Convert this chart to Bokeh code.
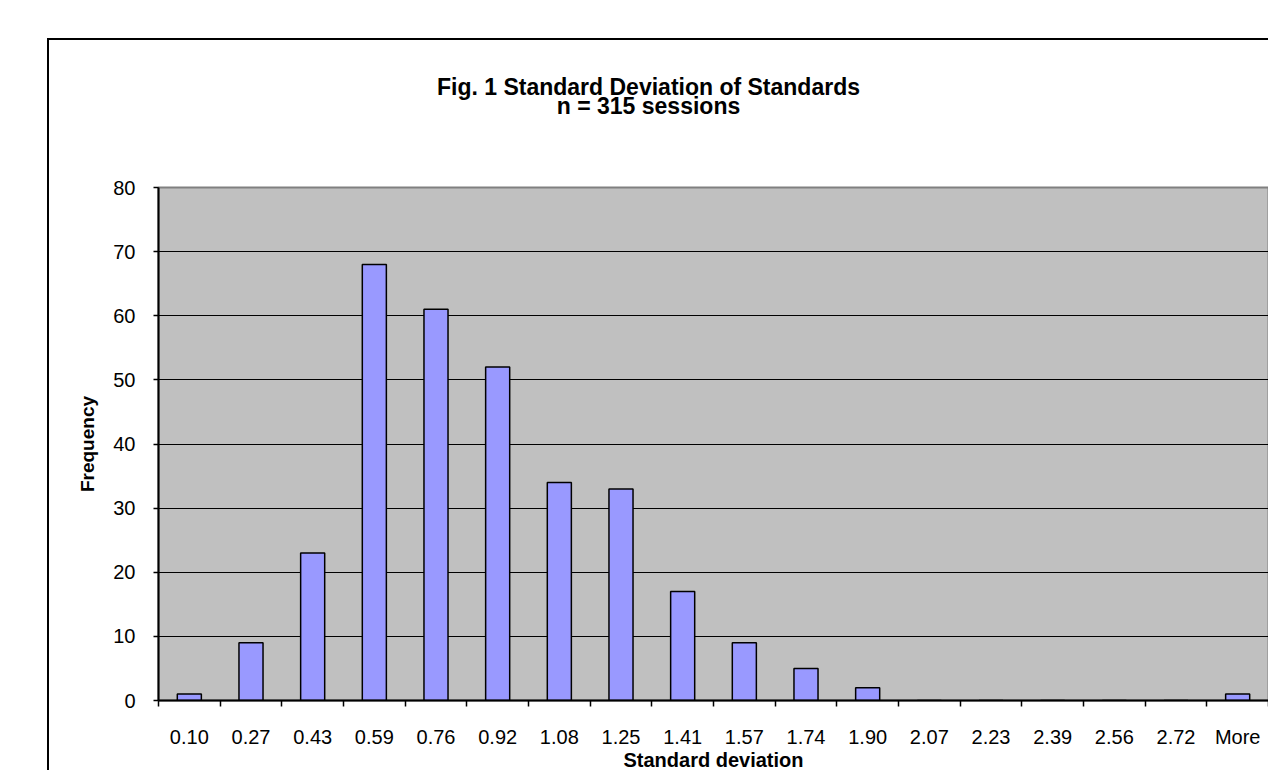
from bokeh.plotting import figure
from bokeh.models import (Range1d, FixedTicker, Title, ColumnDataSource)
from bokeh.embed import file_html
from bokeh.resources import INLINE

# ---- data ----
bins = ["0.10", "0.27", "0.43", "0.59", "0.76", "0.92", "1.08", "1.25", "1.41",
        "1.57", "1.74", "1.90", "2.07", "2.23", "2.39", "2.56", "2.72", "More"]
freq = [1, 9, 23, 68, 61, 52, 34, 33, 17, 9, 5, 2, 0, 0, 0, 0, 0, 1]
y_ticks = [0, 10, 20, 30, 40, 50, 60, 70, 80]
title_line1 = "Fig. 1 Standard Deviation of Standards"
title_line2 = "n = 315 sessions"
x_title = "Standard deviation"
y_title = "Frequency"

FONT = "Liberation Sans"
OX, OY = 49, 40            # canvas origin on the page (inside the chart border)
W, H = 1270 - OX, 772 - OY

pos = list(range(1, len(bins) + 1))
src = ColumnDataSource(dict(x=pos, top=freq, label=bins))

p = figure(width=W, height=H, output_backend="svg", toolbar_location=None,
           x_range=Range1d(0.5, len(bins) + 0.5), y_range=Range1d(0, y_ticks[-1]),
           min_border_left=158 - OX, min_border_right=W - (1268 - OX),
           min_border_top=187 - OY, min_border_bottom=H - (700 - OY))
p.margin = (OY - 2, 0, 0, OX - 2)
p.styles = {"border-left": "2px solid black", "border-top": "2px solid black"}

p.background_fill_color = "#C0C0C0"
p.border_fill_color = "white"
p.outline_line_color = "#808080"
p.outline_line_width = 2

p.vbar(x="x", top="top", width=0.39, source=src, fill_color="#9999FF",
       line_color="black", line_width=1.5)

# x axis
xa = p.below[0]
xa.ticker = FixedTicker(ticks=pos, minor_ticks=[x - 0.5 for x in pos] + [pos[-1] + 0.5])
xa.major_label_overrides = {x: b for x, b in zip(pos, bins)}
xa.major_tick_out = 0
xa.major_tick_in = 0
xa.minor_tick_out = 6
xa.minor_tick_in = 0
xa.minor_tick_line_color = "black"
xa.minor_tick_line_width = 1.5
xa.axis_line_color = "black"
xa.axis_line_width = 2
xa.major_label_text_font = FONT
xa.major_label_text_font_size = "20px"
xa.major_label_text_color = "black"
xa.major_label_standoff = 19

# x axis title (below the tick labels, centred on the plot area)
p.add_layout(Title(text=x_title, align="center", vertical_align="bottom", standoff=-8,
                   text_font=FONT, text_font_size="20px", text_font_style="bold",
                   text_color="black"), "below")

# y axis
ya = p.left[0]
ya.ticker = FixedTicker(ticks=y_ticks, minor_ticks=[])
ya.major_tick_out = 5
ya.major_tick_in = 0
ya.major_tick_line_color = "black"
ya.major_tick_line_width = 1.5
ya.minor_tick_out = 0
ya.minor_tick_in = 0
ya.axis_line_color = "black"
ya.axis_line_width = 2
ya.major_label_text_font = FONT
ya.major_label_text_font_size = "20px"
ya.major_label_text_color = "black"
ya.major_label_standoff = 18
ya.axis_label = y_title
ya.axis_label_text_font = FONT
ya.axis_label_text_font_size = "19px"
ya.axis_label_text_font_style = "bold"
ya.axis_label_text_color = "black"
ya.axis_label_standoff = 12

p.xgrid.visible = False
p.ygrid.ticker = FixedTicker(ticks=y_ticks[1:-1])
p.ygrid.grid_line_color = "black"
p.ygrid.grid_line_width = 1.2

# blank gap between the plot area and the title block
p.add_layout(Title(text=" ", text_font=FONT, text_font_size="1px", standoff=66), "above")

# two-line chart title
TS = 23
W1 = 18.393 * TS   # Arial-metric width of line 1
W2 = 7.977 * TS    # Arial-metric width of line 2
CX = 648 - OX      # title centre (canvas)
FL = 158 - OX      # frame left (canvas)
p.add_layout(Title(text=title_line2, align="left", offset=CX - W2 / 2 - FL,
                   text_font=FONT, text_font_size=f"{TS}px", text_font_style="bold",
                   text_color="black", standoff=0), "above")
p.add_layout(Title(text=title_line1, align="left", offset=CX - W1 / 2 - FL,
                   text_font=FONT, text_font_size=f"{TS}px", text_font_style="bold",
                   text_color="black", standoff=-18), "above")

open("out.html", "w").write(file_html(p, INLINE))
